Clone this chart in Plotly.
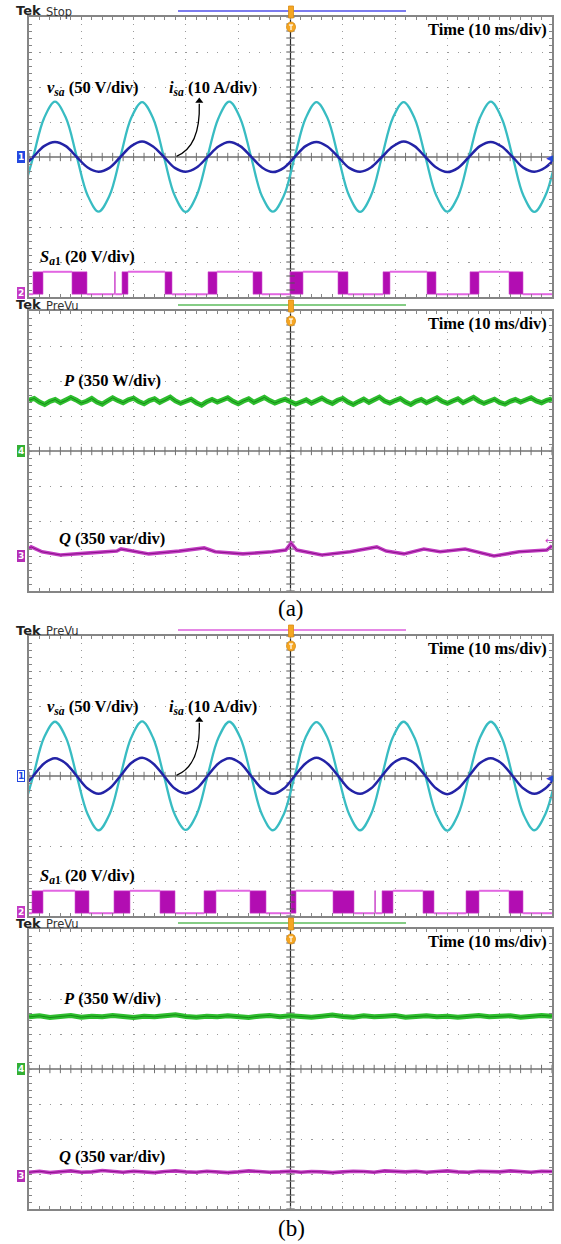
import plotly.graph_objects as go
import numpy as np

W, H = 561, 1244

# ---------------- data (time in ms, amplitude in divisions) ----------------
# sample instants for the sinusoidal traces (every 1/8 of the 60 Hz cycle)
t_sine = [-1.28, 0.80, 2.88, 4.97, 7.05, 9.13, 11.22, 13.30, 15.38, 17.47,
          19.55, 21.63, 23.72, 25.80, 27.88, 29.97, 32.05, 34.13, 36.22, 38.30,
          40.38, 42.47, 44.55, 46.63, 48.72, 50.80, 52.88, 54.97, 57.05, 59.13,
          61.22, 63.30, 65.38, 67.47, 69.55, 71.63, 73.72, 75.80, 77.88, 79.97,
          82.05, 84.13, 86.22, 88.30, 90.38, 92.47, 94.55, 96.63, 98.72, 100.80]

vsa_a = [-1.10, 0.00,
         1.11, 1.58, 1.12, 0.01, -1.10, -1.56, -1.11, 0.00,
         1.12, 1.57, 1.11, 0.00, -1.11, -1.57, -1.10, 0.01,
         1.11, 1.58, 1.11, 0.00, -1.12, -1.56, -1.11, 0.00,
         1.10, 1.57, 1.12, 0.01, -1.11, -1.57, -1.11, 0.00,
         1.11, 1.57, 1.11, 0.00, -1.10, -1.56, -1.12, 0.00,
         1.12, 1.58, 1.11, 0.01, -1.11, -1.57, -1.11, 0.00]
isa_a = [-0.30, 0.00,
         0.31, 0.43, 0.31, 0.00, -0.30, -0.42, -0.31, 0.00,
         0.31, 0.44, 0.30, 0.00, -0.31, -0.42, -0.30, 0.00,
         0.30, 0.43, 0.31, 0.01, -0.30, -0.43, -0.31, 0.00,
         0.31, 0.43, 0.30, 0.00, -0.31, -0.42, -0.30, 0.00,
         0.30, 0.44, 0.31, 0.00, -0.30, -0.43, -0.31, 0.00,
         0.31, 0.43, 0.30, 0.00, -0.31, -0.42, -0.30, 0.00]
vsa_b = [-1.09, 0.00,
         1.10, 1.55, 1.10, 0.00, -1.09, -1.55, -1.10, 0.00,
         1.10, 1.56, 1.09, 0.00, -1.10, -1.54, -1.10, 0.00,
         1.09, 1.55, 1.10, 0.00, -1.10, -1.55, -1.09, 0.00,
         1.10, 1.54, 1.10, 0.00, -1.09, -1.55, -1.10, 0.00,
         1.10, 1.55, 1.09, 0.00, -1.10, -1.56, -1.10, 0.00,
         1.09, 1.55, 1.10, 0.00, -1.10, -1.55, -1.09, 0.00]
isa_b = [-0.36, 0.00,
         0.36, 0.51, 0.36, 0.00, -0.36, -0.51, -0.36, 0.00,
         0.37, 0.52, 0.36, 0.00, -0.36, -0.50, -0.36, 0.00,
         0.36, 0.51, 0.37, 0.00, -0.36, -0.51, -0.36, 0.00,
         0.36, 0.52, 0.36, 0.00, -0.37, -0.51, -0.36, 0.00,
         0.36, 0.51, 0.36, 0.00, -0.36, -0.52, -0.36, 0.00,
         0.37, 0.51, 0.36, 0.00, -0.36, -0.51, -0.36, 0.00]

# switching signal S_a1: segment edges and state (L=low, H=high, D=dense PWM)
sa1_low, sa1_high = -3.92, -3.28
sa1a_edges = [0, 0.76, 2.68, 8.22, 11.09, 16.35, 16.50, 17.78, 18.93, 26.00,
              27.34, 34.23, 35.95, 42.83, 44.55, 49.90, 52.39, 59.08, 60.99,
              67.69, 69.02, 76.10, 77.82, 84.32, 86.04, 91.78, 94.46, 100]
sa1a_state = ['L', 'D', 'H', 'D', 'L', 'D', 'L', 'D', 'H', 'D', 'L', 'D', 'H',
              'D', 'L', 'D', 'H', 'D', 'L', 'D', 'H', 'D', 'L', 'D', 'H', 'D', 'L']
sa1b_edges = [0, 0.57, 2.68, 8.80, 11.47, 16.25, 19.31, 25.05, 27.92, 33.46,
              35.76, 42.26, 45.32, 50.10, 51.05, 58.13, 62.14, 66.10, 66.25,
              67.50, 69.60, 75.33, 77.44, 83.56, 86.04, 91.78, 94.46, 100]
sa1b_state = ['L', 'D', 'H', 'D', 'L', 'D', 'H', 'D', 'L', 'D', 'H', 'D', 'L',
              'D', 'H', 'D', 'L', 'D', 'L', 'D', 'H', 'D', 'L', 'D', 'H', 'D', 'L']

# active power P (a), one value per ms, divisions above channel-4 ground
p_a = [1.45, 1.50, 1.40, 1.33, 1.42, 1.47, 1.38, 1.44, 1.53, 1.46,
       1.37, 1.42, 1.50, 1.40, 1.34, 1.43, 1.52, 1.44, 1.38, 1.46,
       1.51, 1.41, 1.35, 1.44, 1.49, 1.39, 1.45, 1.54, 1.43, 1.36,
       1.42, 1.48, 1.38, 1.31, 1.41, 1.47, 1.40, 1.45, 1.52, 1.42,
       1.35, 1.43, 1.49, 1.39, 1.46, 1.53, 1.44, 1.37, 1.43, 1.48,
       1.41, 1.34, 1.40, 1.46, 1.37, 1.44, 1.51, 1.42, 1.36, 1.45,
       1.50, 1.40, 1.33, 1.41, 1.48, 1.39, 1.46, 1.54, 1.43, 1.37,
       1.44, 1.50, 1.40, 1.33, 1.42, 1.47, 1.38, 1.45, 1.52, 1.42,
       1.36, 1.43, 1.49, 1.38, 1.46, 1.53, 1.43, 1.36, 1.42, 1.48,
       1.39, 1.34, 1.42, 1.47, 1.40, 1.46, 1.52, 1.43, 1.38, 1.45,
       1.49]
# reactive power Q (a), read points (ms, div above channel-3 ground)
q_a_t = [0.0, 0.4, 2.5, 6.0, 11.7, 16.8, 17.6, 22.9, 28.7, 33.5, 35.6, 40.9,
         46.5, 49.1, 50.1, 51.2, 56.0, 61.4, 66.5, 68.3, 71.7, 75.5, 78.6,
         83.4, 88.9, 93.7, 99.0, 100.0]
q_a = [0.22, 0.26, 0.12, 0.03, 0.09, 0.14, 0.20, 0.06, 0.14, 0.23, 0.12, 0.06,
       0.12, 0.17, 0.37, 0.17, 0.03, 0.12, 0.26, 0.14, 0.06, 0.20, 0.12,
       0.20, 0.00, 0.12, 0.17, 0.29]
# P and Q (b), one value every 2 ms
p_b = [1.49, 1.52, 1.47, 1.50, 1.53, 1.48, 1.51, 1.49, 1.53, 1.50,
       1.47, 1.51, 1.49, 1.52, 1.55, 1.50, 1.48, 1.51, 1.49, 1.52,
       1.50, 1.47, 1.51, 1.53, 1.49, 1.52, 1.50, 1.48, 1.51, 1.54,
       1.50, 1.48, 1.52, 1.49, 1.51, 1.53, 1.48, 1.50, 1.52, 1.49,
       1.51, 1.48, 1.50, 1.53, 1.49, 1.51, 1.52, 1.48, 1.50, 1.53,
       1.51]
q_b = [0.05, 0.08, 0.04, 0.07, 0.09, 0.05, 0.06, 0.10, 0.07, 0.05,
       0.08, 0.06, 0.04, 0.07, 0.09, 0.06, 0.05, 0.08, 0.07, 0.04,
       0.06, 0.09, 0.07, 0.05, 0.06, 0.08, 0.05, 0.07, 0.06, 0.04,
       0.06, 0.08, 0.07, 0.05, 0.09, 0.07, 0.06, 0.08, 0.05, 0.07,
       0.09, 0.06, 0.05, 0.08, 0.07, 0.06, 0.09, 0.07, 0.05, 0.08,
       0.07]
q_ground = -3.0   # channel-3 ground level (div) in the power panels

t_pa = [i * 1.0 for i in range(len(p_a))]
t_pb = [i * 2.0 for i in range(len(p_b))]
t_qb = [i * 2.0 for i in range(len(q_b))]

# ---------------- layout helpers ----------------
PANELS = [(17, 297), (311, 591), (636, 916), (929, 1209)]
X0, X1 = 29, 552


def px(x):
    return x / W


def py(y):
    return 1 - y / H


GRID = '#9a9a9a'
BORDER = '#858585'
VSA_C = '#38BCC2'
ISA_C = '#2323A6'
SA_LINE = '#E266E2'
SA_DENSE = '#B20DB2'
P_C = '#2EBE2E'
P_CORE = '#168C16'
Q_C = '#C23DC2'
Q_CORE = '#8C118C'
ORANGE = '#F5A623'

fig = go.Figure()
layout = dict(width=W, height=H, margin=dict(l=0, r=0, t=0, b=0),
              paper_bgcolor='white', plot_bgcolor='white', showlegend=False,
              barmode='overlay')
for i, (top, bot) in enumerate(PANELS):
    n = '' if i == 0 else str(i + 1)
    layout['xaxis' + n] = dict(
        domain=[px(X0), px(X1)], range=[0, 100], anchor='y' + n,
        dtick=10, tick0=0, showgrid=True, gridcolor=GRID, gridwidth=1,
        griddash='1.2px,5.8px', zeroline=False, showticklabels=False,
        ticks='inside', ticklen=3, tickcolor=BORDER, tickwidth=1,
        minor=dict(ticks='inside', ticklen=3, dtick=2, tickcolor=BORDER,
                   showgrid=False),
        showline=True, linecolor=BORDER, linewidth=2, mirror='ticks',
        fixedrange=True)
    layout['yaxis' + n] = dict(
        domain=[py(bot), py(top)], range=[-4, 4], anchor='x' + n,
        dtick=1, tick0=0, showgrid=True, gridcolor=GRID, gridwidth=1,
        griddash='1.2px,9.26px', zeroline=False, showticklabels=False,
        ticks='inside', ticklen=3, tickcolor=BORDER, tickwidth=1,
        minor=dict(ticks='inside', ticklen=3, dtick=0.2, tickcolor=BORDER,
                   showgrid=False),
        showline=True, linecolor=BORDER, linewidth=2, mirror='ticks',
        fixedrange=True)
fig.update_layout(**layout)

shapes = []
annotations = []


def ax(i):
    n = '' if i == 0 else str(i + 1)
    return 'x' + n, 'y' + n


# crosshair + its ticks
tick_x = np.arange(0, 100.01, 2)
tick_y = np.arange(-4, 4.001, 0.2)
for i in range(4):
    xa, ya = ax(i)
    shapes.append(dict(type='line', xref=xa, yref=ya, x0=0, x1=100, y0=0, y1=0,
                       line=dict(color='#707070', width=1.5), layer='below'))
    shapes.append(dict(type='line', xref=xa, yref=ya, x0=50, x1=50, y0=-4, y1=4,
                       line=dict(color='#2a2a2a', width=1.2), layer='below'))
    fig.add_trace(go.Scatter(x=tick_x, y=[0] * len(tick_x), mode='markers',
                             xaxis=xa, yaxis=ya, hoverinfo='skip',
                             marker=dict(symbol='line-ns', size=6,
                                         line=dict(width=1, color='#707070'))))
    fig.add_trace(go.Scatter(x=[50] * len(tick_y), y=tick_y, mode='markers',
                             xaxis=xa, yaxis=ya, hoverinfo='skip',
                             marker=dict(symbol='line-ew', size=6,
                                         line=dict(width=1, color='#555555'))))


def add_sa1(edges, states, i):
    xa, ya = ax(i)
    lx, ly, bx, bw = [], [], [], []
    for a, b, s in zip(edges[:-1], edges[1:], states):
        if s == 'D':
            bx.append((a + b) / 2)
            bw.append(b - a)
        else:
            lev = sa1_high if s == 'H' else sa1_low
            lx += [a, b, None]
            ly += [lev, lev, None]
    fig.add_trace(go.Bar(x=bx, width=bw, y=[sa1_high - sa1_low] * len(bx),
                         base=sa1_low, xaxis=xa, yaxis=ya, hoverinfo='skip',
                         marker=dict(color=SA_DENSE, line=dict(width=0.6, color='#D050D0'))))
    fig.add_trace(go.Scatter(x=lx, y=ly, mode='lines', xaxis=xa, yaxis=ya,
                             hoverinfo='skip', line=dict(color=SA_LINE, width=2)))


def add_sines(vsa, isa, i):
    xa, ya = ax(i)
    fig.add_trace(go.Scatter(x=t_sine, y=vsa, mode='lines', xaxis=xa, yaxis=ya,
                             hoverinfo='skip',
                             line=dict(color=VSA_C, width=2.3, shape='spline')))
    fig.add_trace(go.Scatter(x=t_sine, y=isa, mode='lines', xaxis=xa, yaxis=ya,
                             hoverinfo='skip',
                             line=dict(color=ISA_C, width=2.5, shape='spline')))


def add_pq(tp, p, tq, q, i):
    xa, ya = ax(i)
    qy = [q_ground + v for v in q]
    for yy, tt, c1, c2, w in ((p, tp, P_C, P_CORE, 5), (qy, tq, Q_C, Q_CORE, 3.6)):
        fig.add_trace(go.Scatter(x=tt, y=yy, mode='lines', xaxis=xa, yaxis=ya,
                                 hoverinfo='skip', line=dict(color=c1, width=w)))
        fig.add_trace(go.Scatter(x=tt, y=yy, mode='lines', xaxis=xa, yaxis=ya,
                                 hoverinfo='skip', line=dict(color=c2, width=1)))


add_sines(vsa_a, isa_a, 0)
add_sa1(sa1a_edges, sa1a_state, 0)
add_pq(t_pa, p_a, q_a_t, q_a, 1)
add_sines(vsa_b, isa_b, 2)
add_sa1(sa1b_edges, sa1b_state, 2)
add_pq(t_pb, p_b, t_qb, q_b, 3)

# curved arrows pointing to i_sa
for i in (0, 2):
    xa, ya = ax(i)
    shapes.append(dict(type='path', xref=xa, yref=ya,
                       path='M 28.2,0.02 Q 32.8,0.3 32.56,1.52',
                       line=dict(color='black', width=1.3)))
    fig.add_trace(go.Scatter(x=[32.56], y=[1.6], mode='markers', xaxis=xa, yaxis=ya,
                             hoverinfo='skip',
                             marker=dict(symbol='triangle-up', size=7, color='black')))

# ---------------- texts ----------------
SERIF = 'Liberation Serif'
SANS = 'DejaVu Sans'


def label(x, y, text, size=16.5, anchor='left', font=SERIF, color='black'):
    annotations.append(dict(x=px(x), y=py(y), xref='paper', yref='paper',
                            text=text, showarrow=False, xanchor=anchor,
                            yanchor='middle',
                            font=dict(family=font, size=size, color=color)))


for i, (top, bot) in enumerate(PANELS):
    label(549, top + 12, '<b>Time (10 ms/div)</b>', anchor='right')

for top in (PANELS[0][0], PANELS[2][0]):
    label(45, top + 71, '<b><i>v</i><sub><i>sa</i></sub> (50 V/div)</b>')
    label(167, top + 71, '<b><i>i</i><sub><i>sa</i></sub> (10 A/div)</b>')
    label(38, top + 240, '<b><i>S</i><sub><i>a</i>1</sub> (20 V/div)</b>')
for top in (PANELS[1][0], PANELS[3][0]):
    label(61, top + 69, '<b><i>P</i> (350 W/div)</b>')
    label(57, top + 227, '<b><i>Q</i> (350 var/div)</b>')

label(291, 609, '(a)', size=23, anchor='center')
label(291, 1228, '(b)', size=23, anchor='center')

# scope headers
headers = [(11, 'Stop', '#4f4fe8'), (305, 'PreVu', '#5cbc5c'),
           (630, 'PreVu', '#dd5fdd'), (923, 'PreVu', '#5cbc5c')]
for (hy, word, col), (top, bot) in zip(headers, PANELS):
    label(14, hy, '<b>Tek</b>', size=13, font=SANS, color='#222222')
    label(44, hy + 0.5, word, size=11.5, font=SANS, color='#333333')
    shapes.append(dict(type='line', xref='paper', yref='paper',
                       x0=px(178), x1=px(406), y0=py(hy), y1=py(hy),
                       line=dict(color=col, width=1.3)))
    # trigger markers
    shapes.append(dict(type='rect', xref='paper', yref='paper',
                       x0=px(288.5), x1=px(293.5), y0=py(top + 1), y1=py(hy - 5),
                       fillcolor=ORANGE, line=dict(color='#d98c10', width=0.8)))
    shapes.append(dict(type='circle', xref='paper', yref='paper',
                       x0=px(286.5), x1=px(295.5), y0=py(top + 15), y1=py(top + 5),
                       fillcolor=ORANGE, line=dict(color='#d98c10', width=0.8)))
    shapes.append(dict(type='line', xref='paper', yref='paper',
                       x0=px(291), x1=px(291), y0=py(top + 13), y1=py(top + 8),
                       line=dict(color='white', width=1.2)))
    shapes.append(dict(type='line', xref='paper', yref='paper',
                       x0=px(289), x1=px(293), y0=py(top + 8), y1=py(top + 8),
                       line=dict(color='white', width=1.2)))

# channel markers


def chmark(y, txt, fill, outline=False):
    annotations.append(dict(x=px(21), y=py(y), xref='paper', yref='paper',
                            text='<b>%s</b>' % txt, showarrow=False,
                            xanchor='center', yanchor='middle', borderpad=0,
                            bgcolor='white' if outline else fill,
                            bordercolor=fill, borderwidth=1,
                            font=dict(family=SANS, size=9,
                                      color=fill if outline else 'white')))


chmark(157, '1', '#2448e0')
chmark(293, '2', '#c43ac4')
chmark(451, '4', '#33b033')
chmark(556, '3', '#b52db5')
chmark(776, '1', '#2448e0', outline=True)
chmark(912, '2', '#c43ac4')
chmark(1069, '4', '#33b033')
chmark(1176, '3', '#b52db5')

label(549, 158, '◀', size=9, anchor='center', font=SANS, color='#2448e0')
label(549, 540, '←', size=10, anchor='center', font=SANS, color='#c43ac4')
label(549, 778, '◀', size=9, anchor='center', font=SANS, color='#2448e0')

fig.update_layout(shapes=shapes, annotations=annotations)
fig.write_html('out.html')
